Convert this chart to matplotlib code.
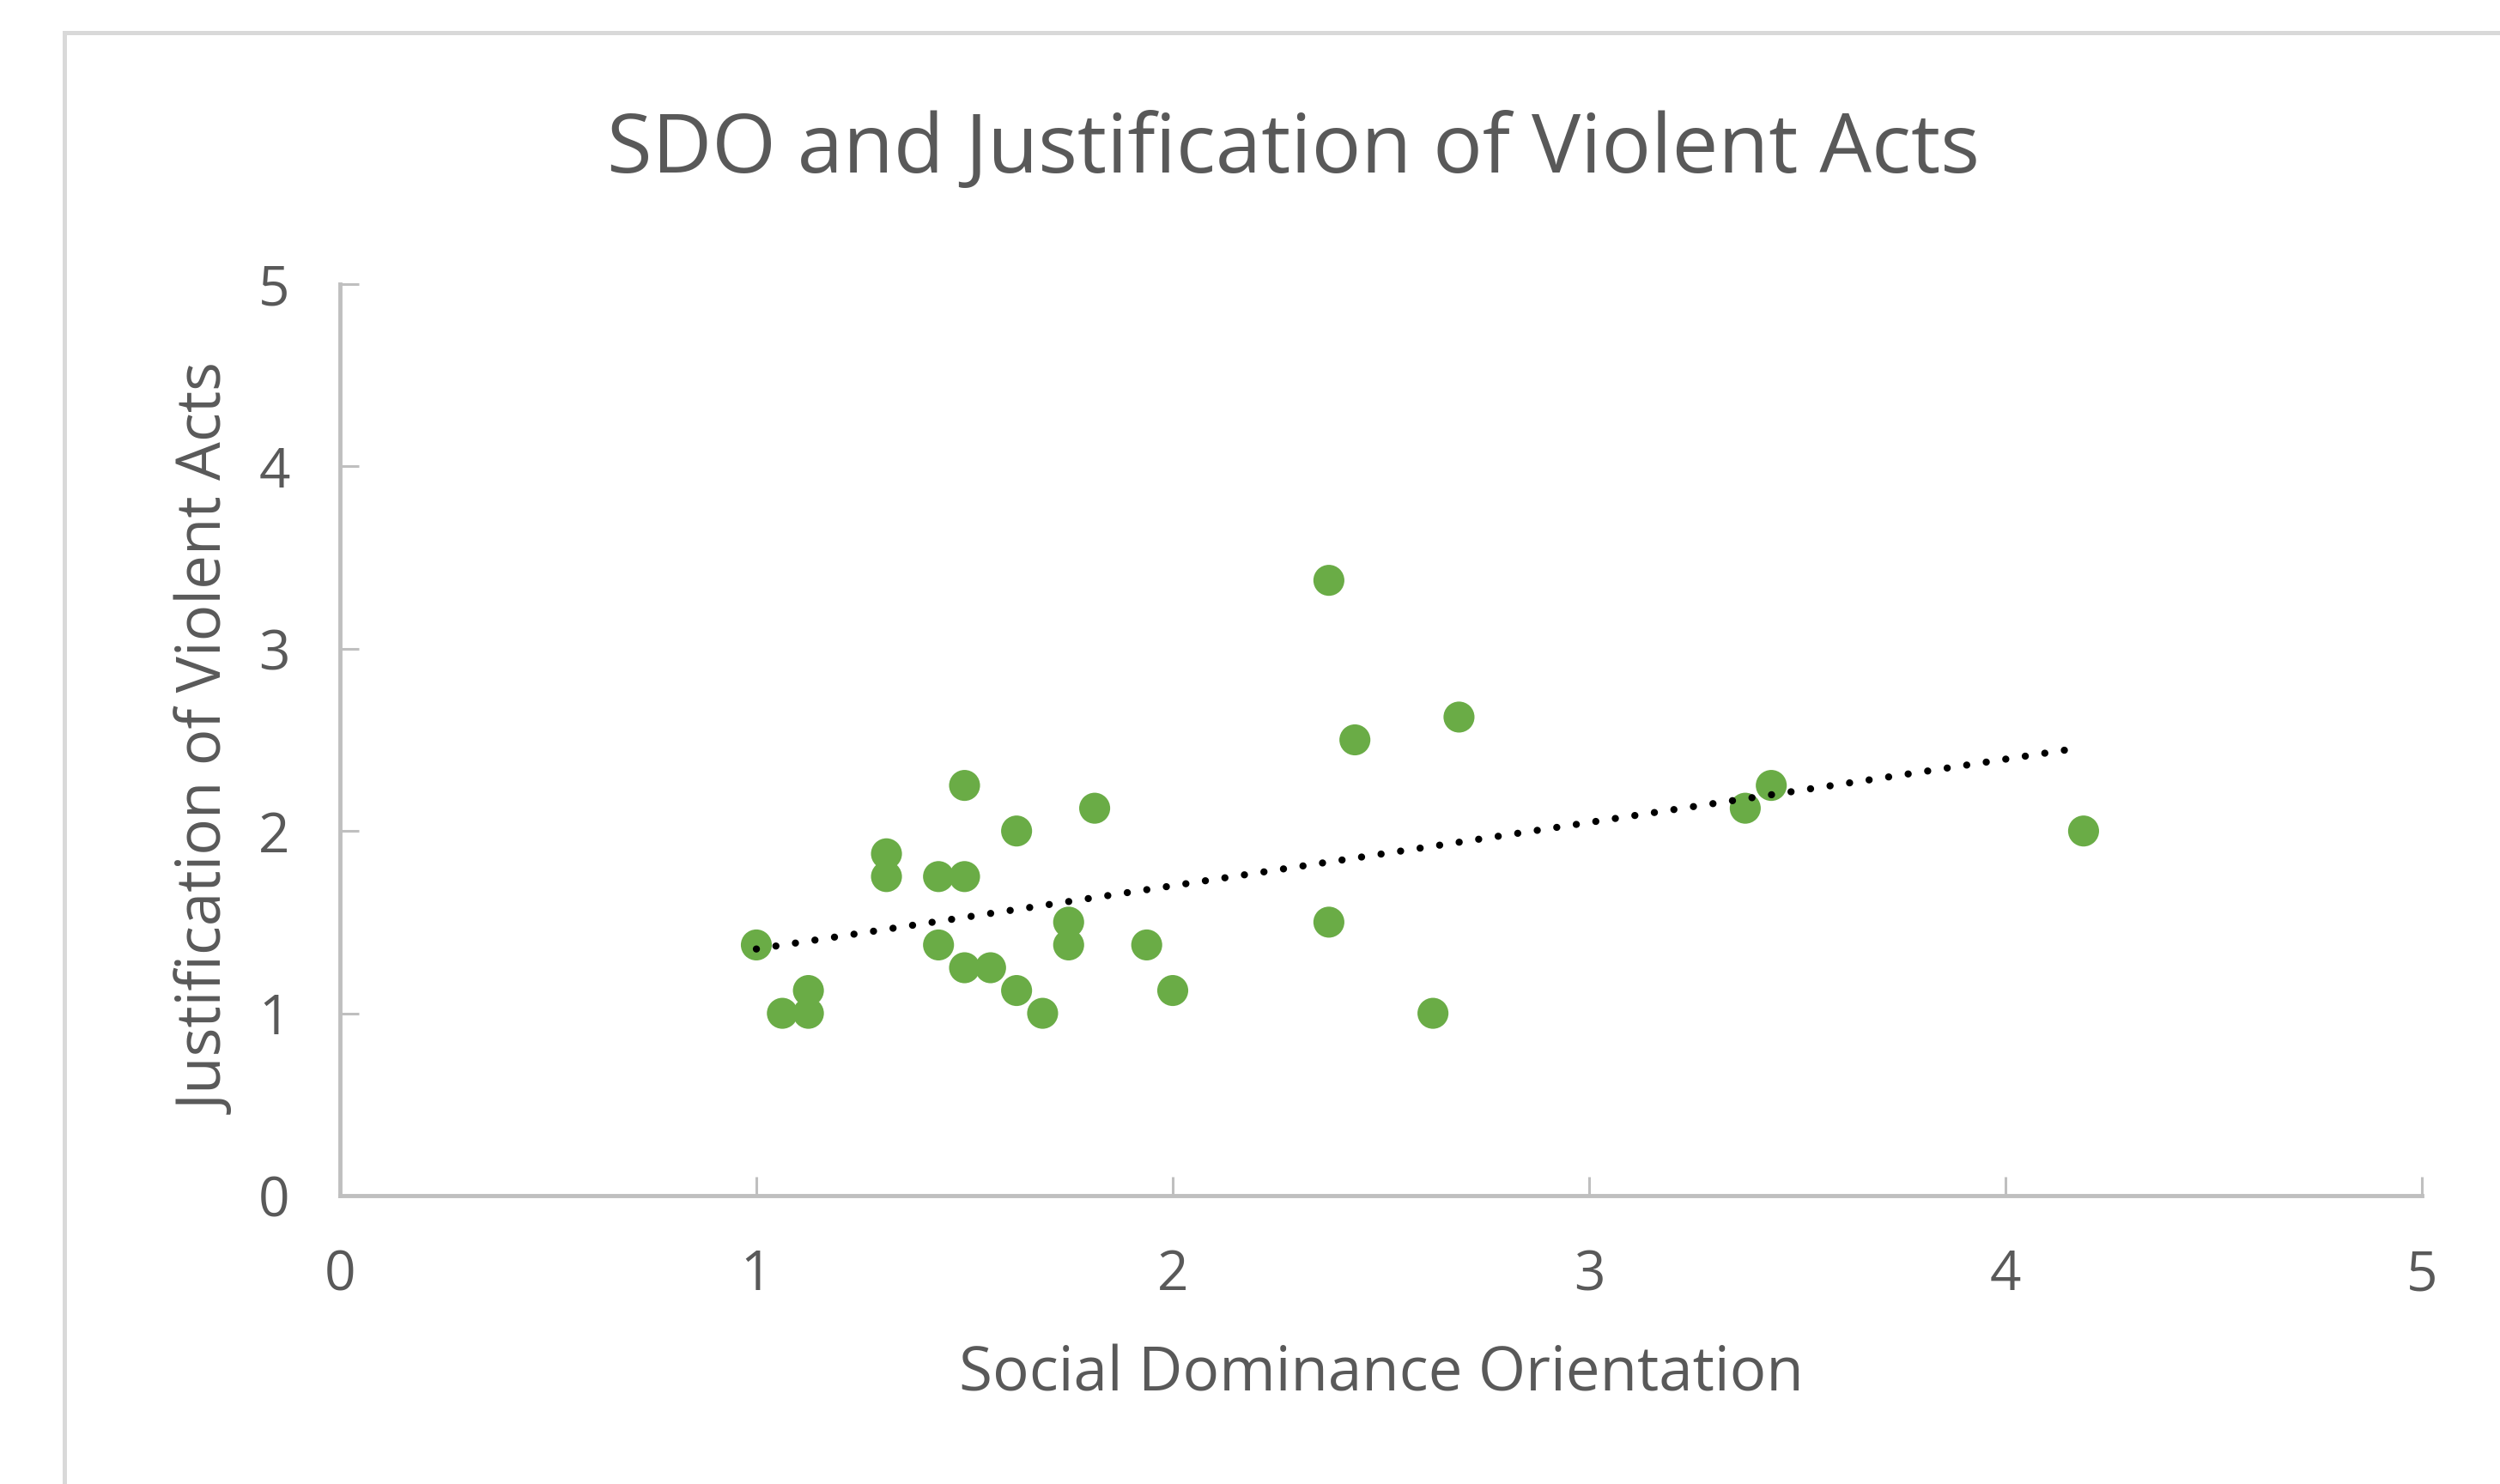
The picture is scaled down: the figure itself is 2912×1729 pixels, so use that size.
import numpy as np
import matplotlib
matplotlib.use("Agg")
import matplotlib.pyplot as plt
from matplotlib.patches import Rectangle

# data
sdo = [1.0, 1.0625, 1.125, 1.125, 1.3125, 1.3125, 1.4375, 1.5, 1.5, 1.4375,
       1.5, 1.5625, 1.625, 1.625, 1.6875, 1.75, 1.75, 1.8125, 1.9375, 2.0,
       2.375, 2.375, 2.4375, 2.625, 2.6875, 3.375, 3.4375, 4.1875]
justification = [1.375, 1.0, 1.125, 1.0, 1.875, 1.75, 1.75, 1.75, 2.25, 1.375,
                 1.25, 1.25, 2.0, 1.125, 1.0, 1.5, 1.375, 2.125, 1.375, 1.125,
                 3.375, 1.5, 2.5, 1.0, 2.625, 2.125, 2.25, 2.0]
x_ticks = [0, 1, 2, 3, 4, 5]
y_ticks = [0, 1, 2, 3, 4, 5]

title = "SDO and Justification of Violent Acts"
x_label = "Social Dominance Orientation"
y_label = "Justification of Violent Acts"

plt.rcParams['font.family'] = ['Open Sans', 'DejaVu Sans']
text_color = '#595959'
axis_color = '#bfbfbf'
green = '#6aac46'

W, H = 2912, 1729
fig = plt.figure(figsize=(W / 100, H / 100), dpi=100)
fig.patch.set_facecolor('white')

# chart area border (runs off the right and bottom of the picture)
fig.patches.append(Rectangle((75 / W, -0.1), 1.2, 1 - 38 / H + 0.1,
                             transform=fig.transFigure, fill=False,
                             edgecolor='#d9d9d9', linewidth=3.6))

ax = fig.add_axes([396 / W, 1 - 1393 / H, (2821 - 396) / W, (1393 - 331) / H])
ax.set_xlim(0, 5)
ax.set_ylim(0, 5)

ax.scatter(sdo, justification, s=26 ** 2, color=green, edgecolors='none',
           zorder=3)

# linear trend line over the data range, round dots
coef = np.polyfit(sdo, justification, 1)
xs = np.array([min(sdo), max(sdo)])
ax.plot(xs, np.polyval(coef, xs), color='black', linewidth=6,
        linestyle=(0, (0.01, 2.75)), dash_capstyle='round', zorder=4)

for side in ['top', 'right']:
    ax.spines[side].set_visible(False)
for side in ['left', 'bottom']:
    ax.spines[side].set_color(axis_color)
    ax.spines[side].set_linewidth(3.5)

ax.set_xticks(x_ticks)
ax.set_yticks(y_ticks)
ax.tick_params(axis='both', direction='in', length=16, width=2.2,
               color=axis_color, labelcolor=text_color, labelsize=46)
ax.tick_params(axis='x', pad=44)
ax.tick_params(axis='y', pad=42)

ax.set_xlabel(x_label, fontsize=51, color=text_color, va='center')
ax.xaxis.set_label_coords(0.5, (1393 - 1602) / (1393 - 331))
ax.set_ylabel(y_label, fontsize=51, color=text_color, va='center')
ax.yaxis.set_label_coords((244 - 396) / (2821 - 396), 0.5)

fig.text(1506 / W, 1 - 176 / H, title, fontsize=69, color=text_color,
         ha='center', va='center')

fig.savefig('out.png', dpi=100, facecolor='white')
